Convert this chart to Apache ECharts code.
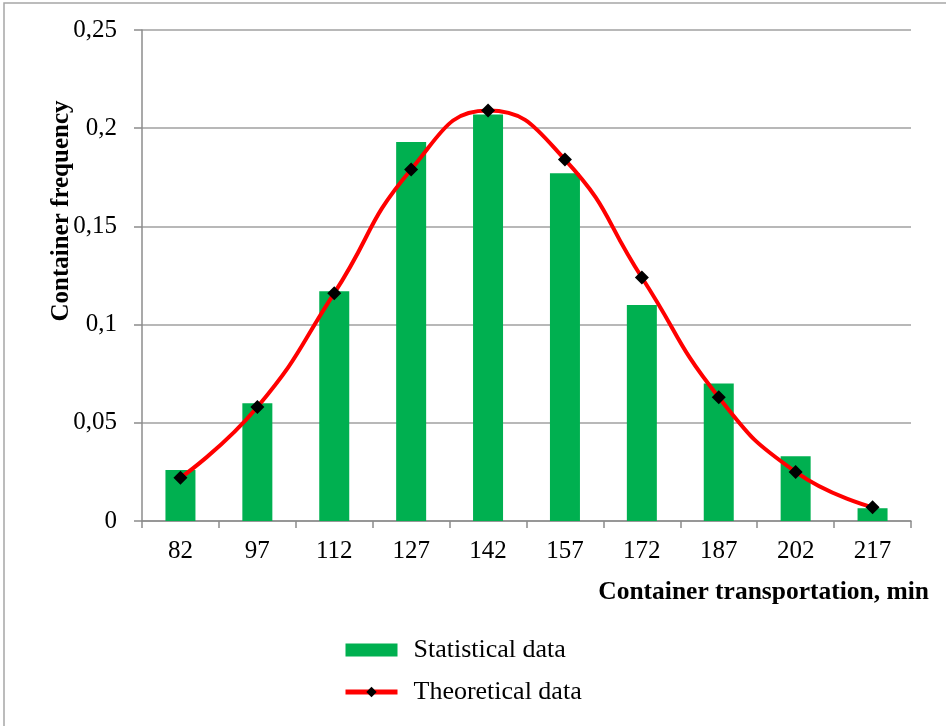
<!DOCTYPE html>
<html>
<head>
<meta charset="utf-8">
<script src="https://cdn.jsdelivr.net/npm/echarts@6/dist/echarts.min.js"></script>
<style>html,body{margin:0;padding:0;background:#fff;}#c{width:946px;height:726px;}</style>
</head>
<body>
<div id="c"></div>
<script>
const categories = ['82','97','112','127','142','157','172','187','202','217'];
const statisticalData = [0.026, 0.060, 0.117, 0.193, 0.207, 0.177, 0.110, 0.070, 0.033, 0.0065];
const theoreticalData = [0.022, 0.058, 0.116, 0.179, 0.209, 0.184, 0.124, 0.063, 0.025, 0.007];
const yTicks = { min: 0, max: 0.25, interval: 0.05 };

const chart = echarts.init(document.getElementById('c'), null, {renderer: 'canvas'});
const serif = '"Liberation Serif", "Times New Roman", serif';
chart.setOption({
  backgroundColor: '#fff',
  animation: false,
  grid: { left: 142, right: 35, top: 30, bottom: 205, containLabel: false },
  graphic: [
    { type: 'rect', shape: { x: 4, y: 3, width: 1000, height: 800 }, style: { fill: 'none', stroke: '#a6a6a6', lineWidth: 1.5 }, z: -1 },
    { type: 'text', x: 62, y: 211, rotation: Math.PI / 2,
      style: { text: 'Container frequency', font: 'bold 25px ' + serif, fill: '#000', textAlign: 'center', textVerticalAlign: 'middle' } },
    { type: 'text', x: 929, y: 592,
      style: { text: 'Container transportation, min', font: 'bold 25.5px ' + serif, fill: '#000', textAlign: 'right', textVerticalAlign: 'middle' } }
  ],
  legend: {
    orient: 'vertical', left: 338, top: 632,
    itemWidth: 52, itemHeight: 13, itemGap: 16,
    textStyle: { fontFamily: serif, fontSize: 26, color: '#000', padding: [0, 0, 0, 11] },
    data: [
      { name: 'Statistical data', icon: 'rect' },
      { name: 'Theoretical data', lineStyle: { width: 5 } }
    ]
  },
  xAxis: {
    type: 'category', data: categories, boundaryGap: true,
    axisLine: { lineStyle: { color: '#8c8c8c', width: 1.5 } },
    axisTick: { show: true, length: 7, alignWithLabel: false, lineStyle: { color: '#8c8c8c', width: 1.5 } },
    axisLabel: { fontFamily: serif, fontSize: 25, color: '#000', margin: 18 }
  },
  yAxis: {
    type: 'value', min: yTicks.min, max: yTicks.max, interval: yTicks.interval,
    axisLine: { show: true, lineStyle: { color: '#8c8c8c', width: 1.5 } },
    axisTick: { show: true, length: 8, lineStyle: { color: '#8c8c8c', width: 1.5 } },
    splitLine: { lineStyle: { color: '#a0a0a0', width: 1.5 } },
    axisLabel: { fontFamily: serif, fontSize: 25, color: '#000', margin: 25,
      formatter: v => (Math.round(v * 100) / 100).toString().replace('.', ',') }
  },
  series: [
    { name: 'Statistical data', type: 'bar', data: statisticalData, barWidth: 30,
      itemStyle: { color: '#00b050' } },
    { name: 'Theoretical data', type: 'line', data: theoreticalData, smooth: 0.5,
      lineStyle: { color: '#ff0000', width: 4 },
      itemStyle: { color: '#000' },
      symbol: 'diamond', symbolSize: 14, z: 5 }
  ]
});
</script>
</body>
</html>
